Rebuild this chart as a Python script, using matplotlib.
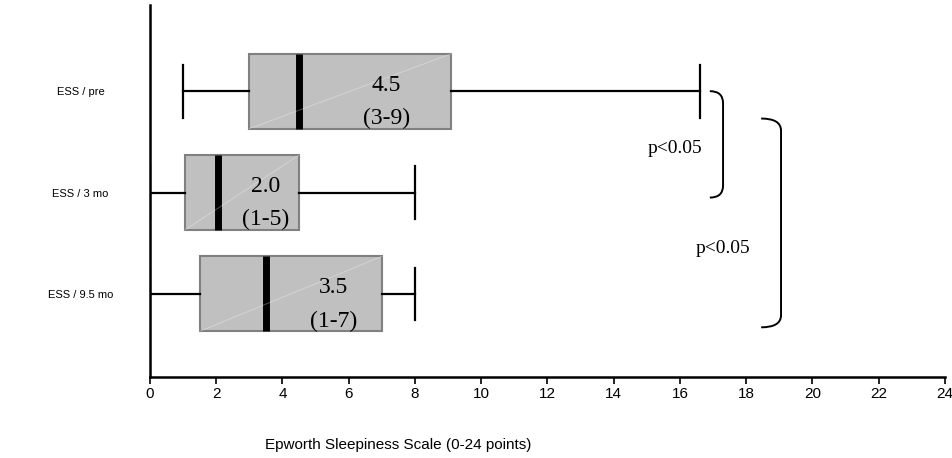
import matplotlib
matplotlib.use("Agg")
import matplotlib.pyplot as plt
from matplotlib.path import Path
from matplotlib.patches import PathPatch

# ESS values
labels = ["ESS / pre", "ESS / 3 mo", "ESS / 9.5 mo"]
whislo = [1.0, 0.0, 0.0]
q1 = [3.0, 1.05, 1.5]
med = [4.5, 2.05, 3.5]
q3 = [9.1, 4.5, 7.0]
whishi = [16.6, 8.0, 8.0]
median_text = ["4.5", "2.0", "3.5"]
range_text = ["(3-9)", "(1-5)", "(1-7)"]
text_x = [7.13, 3.5, 5.53]
xticks = list(range(0, 25, 2))

plt.rcParams["font.family"] = ["Liberation Sans", "DejaVu Sans"]
serif = ["Liberation Serif", "DejaVu Serif"]

fig = plt.figure(figsize=(9.53, 4.58), dpi=100)
ax = fig.add_axes([150 / 953, 81 / 458, 795 / 953, 372 / 458])

pos = [3, 2, 1]
stats = []
for i in range(3):
    stats.append(dict(med=med[i], q1=q1[i], q3=q3[i], whislo=whislo[i],
                      whishi=whishi[i], fliers=[], label=labels[i]))

ax.bxp(stats, positions=pos, vert=False, widths=0.74, patch_artist=True,
       showfliers=False,
       boxprops=dict(facecolor="#c0c0c0", edgecolor="#808080", linewidth=1.5),
       medianprops=dict(color="black", linewidth=5, solid_capstyle="butt"),
       whiskerprops=dict(color="black", linewidth=1.6),
       capprops=dict(color="black", linewidth=1.6), capwidths=0.52)

# faint diagonal artifact across boxes, and the value text
for i, p in enumerate(pos):
    ax.plot([q1[i], q3[i]], [p - 0.37, p + 0.37], color="white", lw=0.6,
            alpha=0.35, zorder=3)
    ax.text(text_x[i], p + 0.06, median_text[i], ha="center", va="center",
            fontsize=17, family=serif, zorder=4)
    ax.text(text_x[i], p - 0.27, range_text[i], ha="center", va="center",
            fontsize=17, family=serif, zorder=4)

# significance brackets
def bracket(x0, x1, y0, y1):
    r = 0.12
    verts = [(x0, y0), (x1, y0), (x1, y0 - r), (x1, y1 + r), (x1, y1), (x0, y1)]
    codes = [Path.MOVETO, Path.CURVE3, Path.CURVE3, Path.LINETO,
             Path.CURVE3, Path.CURVE3]
    ax.add_patch(PathPatch(Path(verts, codes), fill=False, lw=1.4,
                           edgecolor="black", clip_on=False))

bracket(16.9, 17.3, 3.0, 1.95)
bracket(18.45, 19.05, 2.73, 0.67)
ax.text(15.85, 2.43, "p<0.05", ha="center", va="center", fontsize=14,
        family=serif)
ax.text(17.3, 1.45, "p<0.05", ha="center", va="center", fontsize=14,
        family=serif)

ax.set_xlim(0, 24)
ax.set_ylim(0.18, 3.85)
ax.set_xticks(xticks)
ax.set_xticklabels([str(t) for t in xticks], fontsize=11,
                   family=["Liberation Sans Narrow", "Liberation Sans"])
ax.set_yticks(pos)
ax.set_yticklabels(labels, fontsize=8, ha="center")
ax.tick_params(axis="y", length=0, pad=50)
ax.tick_params(axis="x", length=5, width=1.2, direction="out", pad=2)
for s in ["top", "right"]:
    ax.spines[s].set_visible(False)
ax.spines["left"].set_linewidth(1.8)
ax.spines["bottom"].set_linewidth(1.8)

ax.set_xlabel("Epworth Sleepiness Scale (0-24 points)", fontsize=11)
ax.xaxis.set_label_coords((398 - 150) / 795, -0.165)

fig.savefig("out.png", dpi=100)
